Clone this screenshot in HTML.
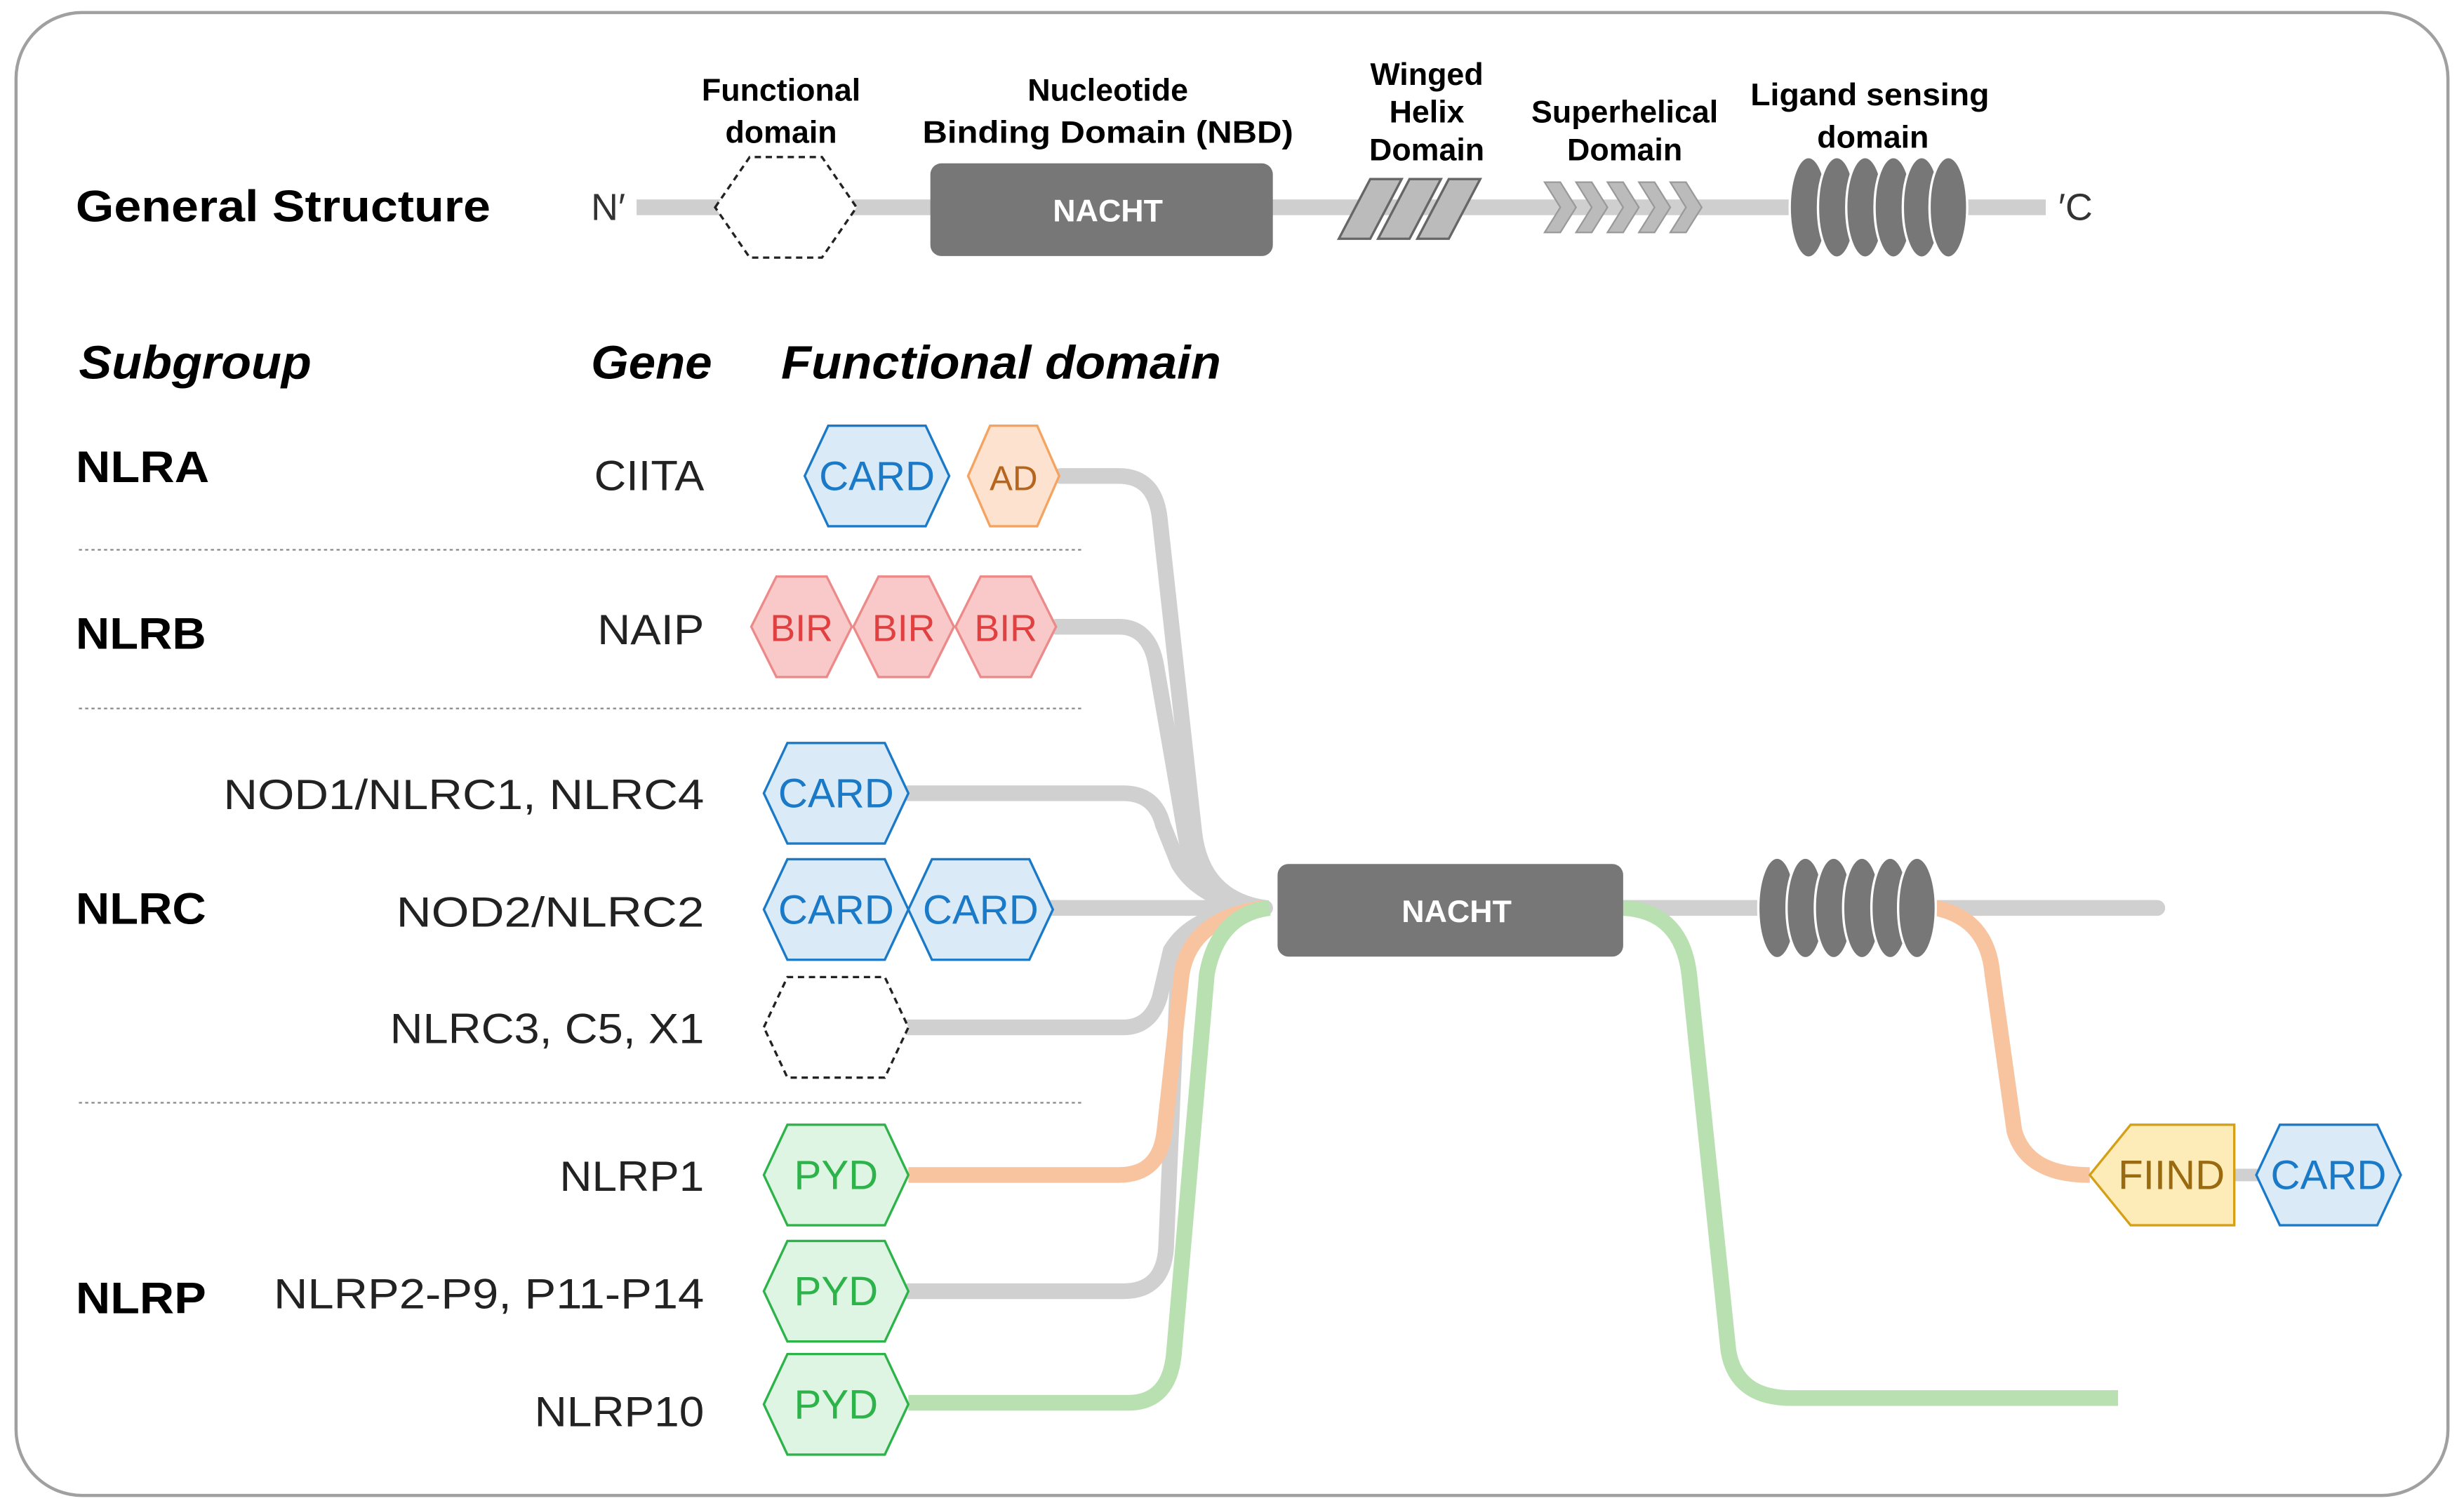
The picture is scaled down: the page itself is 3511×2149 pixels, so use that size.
<!DOCTYPE html>
<html><head><meta charset="utf-8"><style>html,body{margin:0;padding:0;background:#fff}svg{display:block}</style></head>
<body>
<svg width="3511" height="2149" viewBox="0 0 1568 960" xmlns="http://www.w3.org/2000/svg" font-family="Liberation Sans, DejaVu Sans, sans-serif">
<rect x="10" y="8" width="1548" height="944" rx="42" fill="#fff" stroke="#a0a0a0" stroke-width="2"/>
<text x="48" y="141" font-size="28" font-weight="bold" textLength="264" lengthAdjust="spacingAndGlyphs">General Structure</text>
<text x="376" y="140" font-size="24" fill="#333">N′</text>
<text x="1310" y="140" font-size="24" fill="#333">′C</text>
<line x1="405" y1="132" x2="1302" y2="132" stroke="#cfcfcf" stroke-width="10"/>
<polygon points="455,132 477,100 523,100 545,132 523,164 477,164" fill="#fff" stroke="#222" stroke-width="1.5" stroke-dasharray="4,3"/>
<g font-size="20" font-weight="bold" text-anchor="middle">
<text x="497" y="64">Functional</text><text x="497" y="91">domain</text>
<text x="705" y="64">Nucleotide</text><text x="705" y="91" textLength="236" lengthAdjust="spacingAndGlyphs">Binding Domain (NBD)</text>
<text x="908" y="54">Winged</text><text x="908" y="78">Helix</text><text x="908" y="102">Domain</text>
<text x="1034" y="78">Superhelical</text><text x="1034" y="102">Domain</text>
<text x="1190" y="67" textLength="152" lengthAdjust="spacingAndGlyphs">Ligand sensing</text><text x="1192" y="94">domain</text>
</g>
<rect x="592" y="104" width="218" height="59" rx="7" fill="#777"/>
<text x="705" y="141" font-size="20" font-weight="bold" fill="#fff" text-anchor="middle">NACHT</text>
<g fill="#bbb" stroke="#666" stroke-width="1.5">
<polygon points="852,152 872,114 892,114 872,152"/>
<polygon points="877,152 897,114 917,114 897,152"/>
<polygon points="902,152 922,114 942,114 922,152"/>
</g>
<g fill="#bbb" stroke="#999" stroke-width="1">
<polygon points="983,116 993,116 1003,132 993,148 983,148 993,132"/>
<polygon points="1003,116 1013,116 1023,132 1013,148 1003,148 1013,132"/>
<polygon points="1023,116 1033,116 1043,132 1033,148 1023,148 1033,132"/>
<polygon points="1043,116 1053,116 1063,132 1053,148 1043,148 1053,132"/>
<polygon points="1063,116 1073,116 1083,132 1073,148 1063,148 1073,132"/>
</g>
<g fill="#777" stroke="#fff" stroke-width="1.5">
<ellipse cx="1151" cy="132" rx="12" ry="32"/><ellipse cx="1169" cy="132" rx="12" ry="32"/>
<ellipse cx="1187" cy="132" rx="12" ry="32"/><ellipse cx="1205" cy="132" rx="12" ry="32"/>
<ellipse cx="1223" cy="132" rx="12" ry="32"/><ellipse cx="1240" cy="132" rx="12" ry="32"/>
</g>
<g font-size="30" font-weight="bold" font-style="italic">
<text x="50" y="241" textLength="148" lengthAdjust="spacingAndGlyphs">Subgroup</text><text x="376" y="241" textLength="77" lengthAdjust="spacingAndGlyphs">Gene</text><text x="497" y="241" textLength="280" lengthAdjust="spacingAndGlyphs">Functional domain</text>
</g>
<g font-size="28" font-weight="bold">
<text x="48" y="307" textLength="85" lengthAdjust="spacingAndGlyphs">NLRA</text><text x="48" y="413" textLength="83" lengthAdjust="spacingAndGlyphs">NLRB</text><text x="48" y="588" textLength="83" lengthAdjust="spacingAndGlyphs">NLRC</text><text x="48" y="836" textLength="83" lengthAdjust="spacingAndGlyphs">NLRP</text>
</g>
<g font-size="27" fill="#222" lengthAdjust="spacingAndGlyphs">
<text x="378" y="312" textLength="70" lengthAdjust="spacingAndGlyphs">CIITA</text>
<text x="380" y="410" textLength="68" lengthAdjust="spacingAndGlyphs">NAIP</text>
<text x="142" y="515" textLength="306" lengthAdjust="spacingAndGlyphs">NOD1/NLRC1, NLRC4</text>
<text x="252" y="590" textLength="196" lengthAdjust="spacingAndGlyphs">NOD2/NLRC2</text>
<text x="248" y="664" textLength="200" lengthAdjust="spacingAndGlyphs">NLRC3, C5, X1</text>
<text x="356" y="758" textLength="92" lengthAdjust="spacingAndGlyphs">NLRP1</text>
<text x="174" y="833" textLength="274" lengthAdjust="spacingAndGlyphs">NLRP2-P9, P11-P14</text>
<text x="340" y="908" textLength="108" lengthAdjust="spacingAndGlyphs">NLRP10</text>
</g>
<g stroke="#888" stroke-width="1" stroke-dasharray="2,2">
<line x1="50" y1="350" x2="688" y2="350"/><line x1="50" y1="451" x2="688" y2="451"/><line x1="50" y1="702" x2="688" y2="702"/>
</g>
<g fill="none" stroke="#d0d0d0" stroke-width="10" stroke-linecap="round">
<path d="M675,303 L712,303 Q735,303 738,330 L760,530 Q765,572 805,578"/>
<path d="M672,399 L712,399 Q732,399 736,425 L755,535 Q762,572 805,578"/>
<path d="M578,505 L715,505 Q735,505 740,525 L750,550 Q765,575 805,578"/>
<path d="M668,578 L805,578"/>
<path d="M578,654 L715,654 Q732,654 738,635 L745,605 Q760,580 805,578"/>
<path d="M578,822 L715,822 Q740,822 742,795 L750,610 Q760,582 805,578"/>
<path d="M1033,578 L1373,578"/>
</g>
<path d="M578,748 L712,748 Q738,748 741,720 L752,620 Q758,584 805,578" fill="none" stroke="#f8c4a0" stroke-width="10"/>
<path d="M578,893 L718,893 Q744,893 747,862 L768,620 Q775,582 808,578" fill="none" stroke="#b8e0b0" stroke-width="10"/>
<path d="M1033,578 Q1070,580 1075,620 L1100,860 Q1105,890 1140,890 L1348,890" fill="none" stroke="#b8e0b0" stroke-width="10"/>
<path d="M1232,578 Q1265,585 1268,620 L1282,720 Q1290,748 1330,748" fill="none" stroke="#f8c4a0" stroke-width="10"/>
<line x1="1422" y1="748" x2="1440" y2="748" stroke="#d0d0d0" stroke-width="8"/>
<rect x="813" y="550" width="220" height="59" rx="7" fill="#777"/>
<text x="927" y="587" font-size="20" font-weight="bold" fill="#fff" text-anchor="middle">NACHT</text>
<g fill="#777" stroke="#fff" stroke-width="1.5">
<ellipse cx="1131" cy="578" rx="12" ry="32"/><ellipse cx="1149" cy="578" rx="12" ry="32"/>
<ellipse cx="1167" cy="578" rx="12" ry="32"/><ellipse cx="1185" cy="578" rx="12" ry="32"/>
<ellipse cx="1203" cy="578" rx="12" ry="32"/><ellipse cx="1220" cy="578" rx="12" ry="32"/>
</g>
<g font-size="26" text-anchor="middle">
<polygon points="512,303 527,271 589,271 604,303 589,335 527,335" fill="#dbeaf7" stroke="#1a7ac8" stroke-width="1.5"/>
<text x="558" y="312" fill="#1a7ac8">CARD</text>
<polygon points="616,303 630,271 660,271 674,303 660,335 630,335" fill="#fde3cf" stroke="#f4a460" stroke-width="1.5"/>
<text x="645" y="312" fill="#b5651d" font-size="22">AD</text>
<g fill="#f9c9c9" stroke="#ec8a8a" stroke-width="1.5">
<polygon points="478,399 494,367 526,367 542,399 526,431 494,431"/>
<polygon points="543,399 559,367 591,367 607,399 591,431 559,431"/>
<polygon points="608,399 624,367 656,367 672,399 656,431 624,431"/>
</g>
<g fill="#e04040" font-size="24"><text x="510" y="408">BIR</text><text x="575" y="408">BIR</text><text x="640" y="408">BIR</text></g>
<g fill="#dbeaf7" stroke="#1a7ac8" stroke-width="1.5">
<polygon points="486,505 501,473 563,473 578,505 563,537 501,537"/>
<polygon points="486,579 501,547 563,547 578,579 563,611 501,611"/>
<polygon points="578,579 593,547 655,547 670,579 655,611 593,611"/>
<polygon points="1436,748 1451,716 1513,716 1528,748 1513,780 1451,780"/>
</g>
<g fill="#1a7ac8"><text x="532" y="514">CARD</text><text x="532" y="588">CARD</text><text x="624" y="588">CARD</text><text x="1482" y="757">CARD</text></g>
<polygon points="486,654 501,622 563,622 578,654 563,686 501,686" fill="#fff" stroke="#222" stroke-width="1.5" stroke-dasharray="4,3"/>
<g fill="#dff5e3" stroke="#2db34a" stroke-width="1.5">
<polygon points="486,748 501,716 563,716 578,748 563,780 501,780"/>
<polygon points="486,822 501,790 563,790 578,822 563,854 501,854"/>
<polygon points="486,894 501,862 563,862 578,894 563,926 501,926"/>
</g>
<g fill="#2db34a"><text x="532" y="757">PYD</text><text x="532" y="831">PYD</text><text x="532" y="903">PYD</text></g>
<polygon points="1330,748 1356,716 1422,716 1422,780 1356,780" fill="#fdebb8" stroke="#d4a017" stroke-width="1.5"/>
<text x="1382" y="757" fill="#9a6a10">FIIND</text>
</g>
</svg>
</body></html>
